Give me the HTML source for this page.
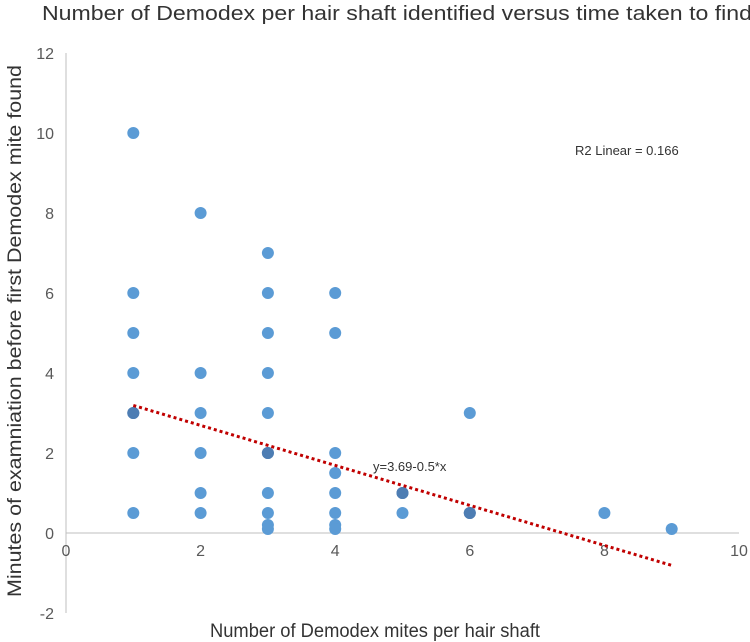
<!DOCTYPE html>
<html><head><meta charset="utf-8"><style>
html,body{margin:0;padding:0;background:#fff;}
svg{display:block;font-family:"Liberation Sans",Arial,sans-serif;}
</style></head><body>
<svg id="chart" width="750" height="642" viewBox="0 0 750 642">
<text x="42" y="20" font-size="20" fill="#333" textLength="710" lengthAdjust="spacingAndGlyphs">Number of Demodex per hair shaft identified versus time taken to find</text>
<g id="axes"></g>
<g id="points"></g>
<g id="trend"></g>
<text x="575" y="155" font-size="13" fill="#333">R2 Linear = 0.166</text>
<text x="373" y="471" font-size="13" fill="#333">y=3.69-0.5*x</text>
<text x="210" y="637" font-size="19" fill="#333" textLength="330" lengthAdjust="spacingAndGlyphs">Number of Demodex mites per hair shaft</text>
<text transform="translate(21,597) rotate(-90)" font-size="19" fill="#333" textLength="532" lengthAdjust="spacingAndGlyphs">Minutes of examniation before first Demodex mite found</text>
</svg>
<script>
const xTicks=[0,2,4,6,8,10];
const yTicks=[-2,0,2,4,6,8,10,12];
const xs=[1,1,1,1,1,1,1,1, 2,2,2,2,2,2, 3,3,3,3,3,3,3,3,3,3,3, 4,4,4,4,4,4,4,4, 5,5,5, 6,6,6, 8, 9];
const ys=[10,6,5,4,3,3,2,0.5, 8,4,3,2,1,0.5, 7,6,5,4,3,2,2,1,0.5,0.2,0.1, 6,5,2,1.5,1,0.5,0.2,0.1, 1,1,0.5, 3,0.5,0.5, 0.5, 0.1];
const intercept=3.69, slope=-0.5, fitX=[1,9];
const X=v=>66+v*67.3, Y=v=>533-v*40;
const NS="http://www.w3.org/2000/svg";
function mk(t,a,p){const e=document.createElementNS(NS,t);for(const k in a)e.setAttribute(k,a[k]);p.appendChild(e);return e;}
const ax=document.getElementById('axes');
let yl=mk('line',{x1:X(0),x2:X(0),y1:Y(12),y2:Y(-2),stroke:'#bfbfbf','stroke-width':1},ax);


let xl=mk('line',{x1:X(0),x2:X(10),y1:Y(0),y2:Y(0),stroke:'#bfbfbf','stroke-width':1},ax);


xTicks.forEach(v=>{const t=mk('text',{x:X(v),y:Y(0)+23,'text-anchor':'middle','font-size':16,fill:'#595959'},ax);t.textContent=v;

});
yTicks.forEach(v=>{const t=mk('text',{x:X(0)-12,y:Y(v)+6,'text-anchor':'end','font-size':16,fill:'#595959'},ax);t.textContent=v;

});
const pg=document.getElementById('points');
const cnt={};xs.forEach((x,i)=>{const k=x+','+ys[i];cnt[k]=(cnt[k]||0)+1;});
xs.forEach((x,i)=>{const k=x+','+ys[i];
const c=mk('circle',{cx:X(x),cy:Y(ys[i]),r:6,fill:cnt[k]>1?'#4d7db3':'#5b9bd5'},pg);

});
const tg=document.getElementById('trend');
const tl=mk('line',{x1:X(fitX[0]),y1:Y(intercept+slope*fitX[0]),x2:X(fitX[1]),y2:Y(intercept+slope*fitX[1]),stroke:'#c00000','stroke-width':3,'stroke-dasharray':'3 3'},tg);


</script>
</body></html>
